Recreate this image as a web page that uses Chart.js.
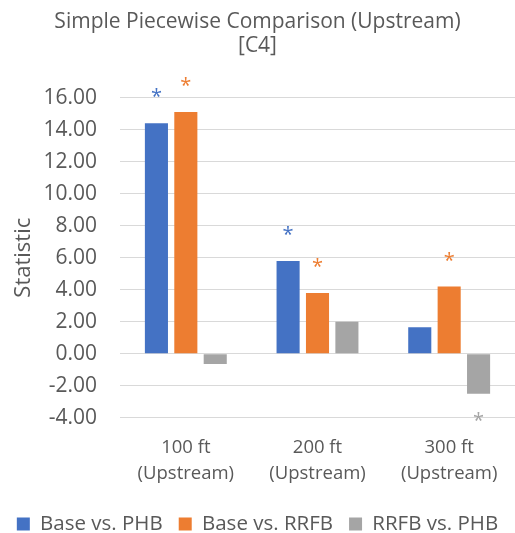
<!DOCTYPE html>
<html>
<head>
<meta charset="utf-8">
<title>Simple Piecewise Comparison (Upstream) [C4]</title>
<script src="https://cdn.jsdelivr.net/npm/chart.js@4.4.1/dist/chart.umd.min.js"></script>
<style>
  html, body { margin: 0; padding: 0; background: #ffffff; }
  canvas { display: block; }
</style>
</head>
<body>
<canvas id="chart" width="515" height="533"></canvas>
<script>
// Category labels (two lines each)
const categories = [
  ['100 ft', '(Upstream)'],
  ['200 ft', '(Upstream)'],
  ['300 ft', '(Upstream)']
];

// Series values
const baseVsPHB  = [14.4, 5.8, 1.65];
const baseVsRRFB = [15.1, 3.8, 4.2];
const rrfbVsPHB  = [-0.65, 2.0, -2.5];

// Statistically significant results, marked with an asterisk
const sigBaseVsPHB  = [true, true, false];
const sigBaseVsRRFB = [true, true, true];
const sigRrfbVsPHB  = [false, false, true];

// Value axis
const yMin = -4;
const yMax = 16;
const yStep = 2;

const FONT = "'Open Sans', 'Noto Sans', sans-serif";
const TEXT = '#595959';

// Draws an asterisk just beyond the end of each significant bar
const significanceMarks = {
  id: 'significanceMarks',
  afterDatasetsDraw(chart) {
    const ctx = chart.ctx;
    ctx.save();
    ctx.font = '20px ' + FONT;
    ctx.textAlign = 'center';
    ctx.textBaseline = 'alphabetic';
    const m = ctx.measureText('*');
    const glyphMid = (m.actualBoundingBoxAscent - m.actualBoundingBoxDescent) / 2;
    chart.data.datasets.forEach((ds, i) => {
      const meta = chart.getDatasetMeta(i);
      ds.significant.forEach((sig, j) => {
        if (!sig) return;
        const bar = meta.data[j];
        const v = ds.data[j];
        const cy = v >= 0 ? bar.y - 30.5 : bar.y + 23;
        ctx.fillStyle = ds.backgroundColor;
        ctx.fillText('*', bar.x, cy + glyphMid);
      });
    });
    ctx.restore();
  }
};

new Chart(document.getElementById('chart'), {
  type: 'bar',
  data: {
    labels: categories,
    datasets: [
      { label: 'Base vs. PHB',  data: baseVsPHB,  backgroundColor: '#4472C4', significant: sigBaseVsPHB },
      { label: 'Base vs. RRFB', data: baseVsRRFB, backgroundColor: '#ED7D31', significant: sigBaseVsRRFB },
      { label: 'RRFB vs. PHB',  data: rrfbVsPHB,  backgroundColor: '#A5A5A5', significant: sigRrfbVsPHB }
    ]
  },
  options: {
    responsive: false,
    animation: false,
    devicePixelRatio: 1,
    layout: { padding: { left: 0, right: 0, top: 0, bottom: 0 } },
    datasets: {
      bar: { categoryPercentage: 0.67, barPercentage: 0.785 }
    },
    plugins: {
      title: {
        display: true,
        text: ['Simple Piecewise Comparison (Upstream)', '[C4]'],
        color: TEXT,
        font: { family: FONT, size: 21, weight: 'normal', lineHeight: 1.15 },
        padding: { top: 10, bottom: 39.4 }
      },
      legend: {
        position: 'bottom',
        maxHeight: 35.25,
        labels: {
          color: TEXT,
          font: { family: FONT, size: 20.5 },
          boxWidth: 13,
          boxHeight: 13,
          padding: 16
        }
      },
      tooltip: { enabled: false }
    },
    scales: {
      x: {
        grid: { display: false },
        border: { display: false },
        ticks: {
          color: TEXT,
          font: { family: FONT, size: 18.5, lineHeight: 1.38 },
          padding: 9.5,
          maxRotation: 0
        },
        afterFit(scale) { scale.height = 80.05; }
      },
      y: {
        min: yMin,
        max: yMax,
        border: { display: false },
        grid: { color: '#D9D9D9', lineWidth: 1, drawTicks: false },
        ticks: {
          stepSize: yStep,
          color: TEXT,
          font: { family: FONT, size: 21 },
          padding: 23,
          callback: (v) => Number(v).toFixed(2)
        },
        title: {
          display: true,
          text: 'Statistic',
          color: TEXT,
          font: { family: FONT, size: 22, lineHeight: 1.2 },
          padding: { top: 10.8, bottom: 0 }
        },
        afterFit(scale) { scale.width = 120; }
      }
    }
  },
  plugins: [significanceMarks]
});
</script>
</body>
</html>
